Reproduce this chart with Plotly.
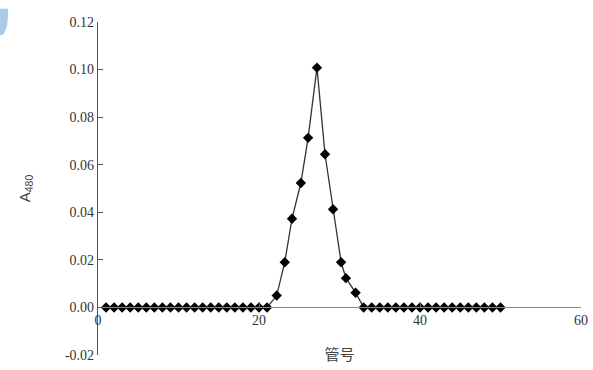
import plotly.graph_objects as go

tube = [1, 2, 3, 4, 5, 6, 7, 8, 9, 10, 11, 12, 13, 14, 15, 16, 17, 18, 19, 20, 21,
        22.2, 23.2, 24.1, 25.2, 26.1, 27.2, 28.2, 29.2, 30.2, 30.8, 32.0,
        33, 34, 35, 36, 37, 38, 39, 40, 41, 42, 43, 44, 45, 46, 47, 48, 49, 50]
a480 = [0.0] * 21 + [0.005, 0.019, 0.0373, 0.0523, 0.0713, 0.1008, 0.0644, 0.0413,
                     0.019, 0.0123, 0.0062] + [0.0] * 18

x_ticks = [0, 20, 40, 60]
y_ticks = [-0.02, 0.0, 0.02, 0.04, 0.06, 0.08, 0.10, 0.12]
y_labels = ["-0.02", "0.00", "0.02", "0.04", "0.06", "0.08", "0.10", "0.12"]

y_min, y_max = -0.02, 0.12

serif = "Liberation Serif"
tickfont = dict(family=serif, size=14, color="#333333")

fig = go.Figure()
fig.add_trace(go.Scatter(
    x=tube, y=a480, mode="lines+markers",
    line=dict(color="#333333", width=1.3),
    marker=dict(symbol="diamond", size=8, color="black"),
    cliponaxis=False, showlegend=False,
))

fig.update_layout(
    width=593, height=370,
    margin=dict(l=98, r=12, t=22, b=15),
    paper_bgcolor="white", plot_bgcolor="white",
    font=dict(family=serif, size=14, color="#222222"),
    xaxis=dict(
        range=[0, 60], tickvals=x_ticks, ticktext=[str(v) for v in x_ticks],
        showgrid=False, zeroline=False, showline=True, linecolor="#888888", linewidth=1.3,
        ticks="inside", ticklen=5, tickcolor="#666666", automargin=False,
        ticklabeloverflow="allow",
        anchor="free", position=(0 - y_min) / (y_max - y_min),
        title=dict(text="管号", standoff=22,
                   font=dict(family="Noto Sans CJK SC", size=15, color="#444444")),
        tickfont=tickfont,
    ),
    yaxis=dict(
        range=[y_min, y_max], tickvals=y_ticks, ticktext=y_labels,
        showgrid=False, zeroline=False, showline=True, linecolor="#555555", linewidth=1.3,
        ticks="inside", ticklen=5, tickcolor="#555555", automargin=False,
        ticklabeloverflow="allow",
        title=dict(text="A<sub>480</sub>", standoff=30,
                   font=dict(family="Liberation Sans", size=15, color="#444444")),
        tickfont=tickfont,
    ),
    shapes=[dict(type="path", xref="paper", yref="paper",
                 path="M -0.203 1.04 L -0.186 1.04 Q -0.186 0.96 -0.203 0.96 Z",
                 fillcolor="#a9cbe8", line=dict(width=0))],
)

fig.write_html("out.html", config={"displayModeBar": False},
               post_script="document.body.style.margin='0px';document.body.style.overflow='hidden';")
